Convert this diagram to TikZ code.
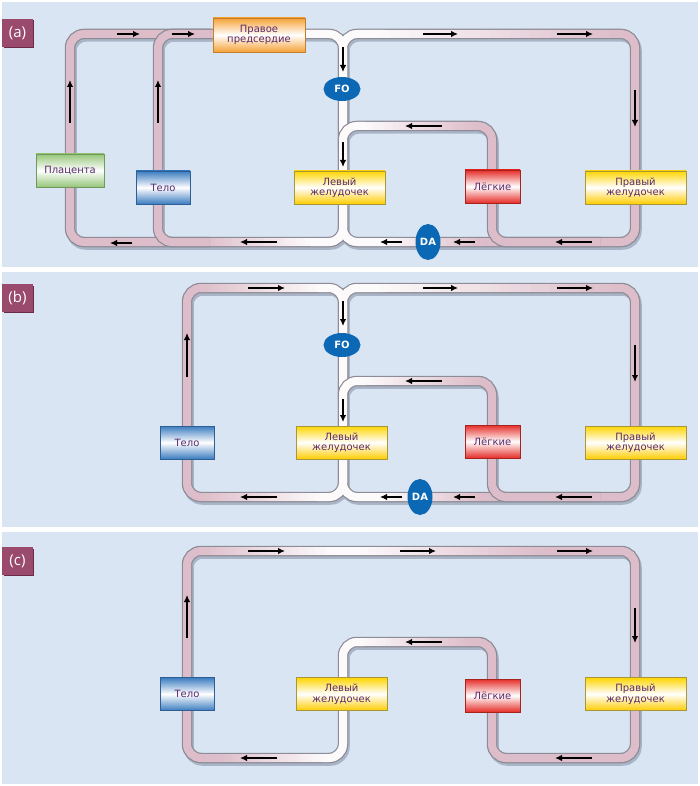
\documentclass[tikz,border=0pt]{standalone}
\usepackage{fontspec}
\setmainfont{DejaVu Sans}
\newfontfamily\lblfont{Open Sans}
\usetikzlibrary{arrows.meta,shapes.geometric}
\definecolor{bg}{HTML}{DAE5F3}
\definecolor{tpink}{HTML}{DDBDC9}
\definecolor{twhite}{HTML}{FCFAFB}
\definecolor{tborder}{HTML}{8C8C96}
\definecolor{tshadow}{HTML}{A9B5C7}
\definecolor{txt}{HTML}{5A2A6E}
\definecolor{lblc}{HTML}{9A4A6C}
\definecolor{lbls}{HTML}{6A2A48}
\definecolor{ovalc}{HTML}{0A68B4}
\definecolor{cgreen}{HTML}{96C67A}\definecolor{bgreen}{HTML}{6F9A5B}
\definecolor{cblue}{HTML}{3B7CC0}\definecolor{bblue}{HTML}{2D5F95}
\definecolor{cyel}{HTML}{FFD500}\definecolor{byel}{HTML}{A8973A}
\definecolor{corg}{HTML}{F5A236}\definecolor{borg}{HTML}{C47E2A}
\definecolor{cred}{HTML}{E52D28}\definecolor{bred}{HTML}{A8221E}
\tikzset{
  ts/.style={line width=10.5pt,tshadow,rounded corners=14pt,shift={(1.5,2.5)}},
  tb/.style={line width=10.5pt,tborder,rounded corners=14pt},
  tf/.style={line width=8pt,tpink,rounded corners=14pt},
  tw/.style={line width=8pt,twhite,rounded corners=14pt},
  flow/.style={line width=1.6pt,black,-{Latex[length=7pt,width=6.5pt]}},
  bx/.style={draw,line width=0.8pt,minimum height=33pt,inner sep=1pt,align=center,
    font=\fontsize{10}{10.5}\selectfont,text=txt},
  gbox/.style={bx,top color=cgreen,bottom color=cgreen,middle color=white,draw=bgreen},
  bbox/.style={bx,top color=cblue,bottom color=cblue,middle color=white,draw=bblue},
  ybox/.style={bx,top color=cyel,bottom color=cyel!90!orange,middle color=white,draw=byel},
  obox/.style={bx,top color=corg,bottom color=corg,middle color=white,draw=borg},
  rbox/.style={bx,top color=cred,bottom color=cred,middle color=white,draw=bred},
  oval/.style={ellipse,fill=ovalc,text=white,inner sep=0pt,font=\bfseries\fontsize{10}{10}\selectfont},
  lbl/.style={fill=lblc,text=white,minimum width=31pt,minimum height=28pt,inner sep=0pt,
    font=\lblfont\fontsize{15}{16}\selectfont},
}
\newcommand\hgr[5]{%
 \foreach \k in {0,...,23}{%
  \pgfmathsetmacro\xa{#1+(#2-#1)*\k/24}%
  \pgfmathsetmacro\xb{#1+(#2-#1)*(\k+1.25)/24}%
  \pgfmathtruncatemacro\pc{100-100*(\k+0.5)/24}%
  \draw[line width=8pt,color=#4!\pc!#5] (\xa,#3) -- (\xb,#3);
 }}
\begin{document}
\begin{tikzpicture}[x=1pt,y=-1pt]
\useasboundingbox (0,0) rectangle (700,786);
\fill[white] (0,0) rectangle (700,786);
\fill[bg] (2,2) rectangle (698,267);
\fill[bg] (2,272) rectangle (698,527);
\fill[bg] (2,532) rectangle (698,784);

% ================= panel (a) =================
\draw[ts] (343,190) -- (343,242) -- (70,242) -- (70,34) -- (343,34) -- (343,190);
\draw[ts] (343,150) -- (343,34) -- (635,34) -- (635,242) -- (343,242) -- (343,190);
\draw[ts] (343,180) -- (343,126) -- (492,126) -- (492,242) -- (600,242);
\draw[ts] (210,242) -- (158,242) -- (158,34) -- (210,34);
\draw[tb] (343,190) -- (343,242) -- (70,242) -- (70,34) -- (343,34) -- (343,190);
\draw[tb] (343,150) -- (343,34) -- (635,34) -- (635,242) -- (343,242) -- (343,190);
\draw[tf] (343,190) -- (343,242) -- (70,242) -- (70,34) -- (343,34) -- (343,190);
\draw[tf] (343,150) -- (343,34) -- (635,34) -- (635,242) -- (343,242) -- (343,190);
\draw[tw] (300,34) -- (343,34) -- (343,242) -- (310,242);
\draw[tw] (343,100) -- (343,34) -- (385,34);
\draw[tw] (343,190) -- (343,242) -- (385,242);
\hgr{380}{620}{34}{twhite}{tpink}
\hgr{385}{482}{242}{twhite}{tpink}
\hgr{310}{200}{242}{twhite}{tpink}
% lungs loop on top
\draw[tb] (343,180) -- (343,126) -- (492,126) -- (492,242) -- (600,242);
\draw[tf] (343,180) -- (343,126) -- (492,126) -- (492,242) -- (600,242);
\draw[tw] (343,185) -- (343,126) -- (365,126);
\hgr{365}{478}{126}{twhite}{tpink}
% body loop on top
\draw[tb] (210,242) -- (158,242) -- (158,34) -- (210,34);
\draw[tf] (210,242) -- (158,242) -- (158,34) -- (210,34);

\draw[flow] (117,34) -- (140,34);
\draw[flow] (172,34) -- (195,34);
\draw[flow] (70,123) -- (70,80);
\draw[flow] (158,123) -- (158,80);
\draw[flow] (132,243) -- (110,243);
\draw[flow] (277,242) -- (240,242);
\draw[flow] (343,47) -- (343,72);
\draw[flow] (423,34) -- (458,34);
\draw[flow] (557,34) -- (593,34);
\draw[flow] (635,90) -- (635,127);
\draw[flow] (592,242) -- (555,242);
\draw[flow] (475,242) -- (453,242);
\draw[flow] (402,242) -- (380,242);
\draw[flow] (442,126) -- (405,126);
\draw[flow] (343,142) -- (343,167);

\node[obox,minimum width=92pt,minimum height=34pt] (ra) at (259,35) {Правое\\предсердие};
\node[gbox,minimum width=68pt] (pla) at (70,170.5) {Плацента};
\node[bbox,minimum width=54pt] (tela) at (163,187.5) {Тело};
\node[ybox,minimum width=91pt] (lva) at (339.5,187.5) {Левый\\желудочек};
\node[rbox,minimum width=55pt] (lga) at (492.5,186.5) {Лёгкие};
\node[ybox,minimum width=101pt] (rva) at (635.5,187.5) {Правый\\желудочек};
\node[oval,minimum width=37pt,minimum height=24pt] (foa) at (342,89) {FO};
\node[oval,minimum width=25pt,minimum height=36pt] (daa) at (428,242) {DA};

\fill[lbls] (3.5,20.5) rectangle (34,48);
\node[lbl] (lba) at (17.5,33) {(a)};

% ================= panel (b) =================
\draw[ts] (343,445) -- (343,497) -- (187,497) -- (187,288) -- (343,288) -- (343,445);
\draw[ts] (343,400) -- (343,288) -- (635,288) -- (635,497) -- (343,497) -- (343,445);
\draw[ts] (343,435) -- (343,381) -- (492,381) -- (492,497) -- (600,497);
\draw[tb] (343,445) -- (343,497) -- (187,497) -- (187,288) -- (343,288) -- (343,445);
\draw[tb] (343,400) -- (343,288) -- (635,288) -- (635,497) -- (343,497) -- (343,445);
\draw[tf] (343,445) -- (343,497) -- (187,497) -- (187,288) -- (343,288) -- (343,445);
\draw[tf] (343,400) -- (343,288) -- (635,288) -- (635,497) -- (343,497) -- (343,445);
\draw[tw] (318,288) -- (343,288) -- (343,497) -- (318,497);
\draw[tw] (343,350) -- (343,288) -- (385,288);
\draw[tw] (343,445) -- (343,497) -- (385,497);
\hgr{200}{320}{288}{tpink}{twhite}
\hgr{320}{200}{497}{twhite}{tpink}
\hgr{380}{620}{288}{twhite}{tpink}
\hgr{385}{482}{497}{twhite}{tpink}
\draw[tb] (343,435) -- (343,381) -- (492,381) -- (492,497) -- (600,497);
\draw[tf] (343,435) -- (343,381) -- (492,381) -- (492,497) -- (600,497);
\draw[tw] (343,440) -- (343,381) -- (365,381);
\hgr{365}{478}{381}{twhite}{tpink}

\draw[flow] (248,288) -- (285,288);
\draw[flow] (187,377) -- (187,333);
\draw[flow] (277,497) -- (240,497);
\draw[flow] (343,301) -- (343,326);
\draw[flow] (423,288) -- (458,288);
\draw[flow] (557,288) -- (593,288);
\draw[flow] (635,345) -- (635,382);
\draw[flow] (592,497) -- (555,497);
\draw[flow] (475,497) -- (453,497);
\draw[flow] (402,497) -- (380,497);
\draw[flow] (442,381) -- (405,381);
\draw[flow] (343,399) -- (343,422);

\node[bbox,minimum width=54pt] (telb) at (187,442.5) {Тело};
\node[ybox,minimum width=91pt] (lvb) at (341.5,442.5) {Левый\\желудочек};
\node[rbox,minimum width=55pt] (lgb) at (492.5,441.5) {Лёгкие};
\node[ybox,minimum width=101pt] (rvb) at (635.5,442.5) {Правый\\желудочек};
\node[oval,minimum width=37pt,minimum height=24pt] (fob) at (342,345) {FO};
\node[oval,minimum width=25pt,minimum height=36pt] (dab) at (420,497) {DA};

\fill[lbls] (3.5,285.5) rectangle (34,313);
\node[lbl] (lbb) at (17.5,298) {(b)};

% ================= panel (c) =================
\draw[ts] (400,551) -- (635,551) -- (635,758) -- (492,758) -- (492,642) -- (343,642) -- (343,758) -- (187,758) -- (187,551) -- (400,551);
\draw[tb] (400,551) -- (635,551) -- (635,758) -- (492,758) -- (492,642) -- (343,642) -- (343,758) -- (187,758) -- (187,551) -- (400,551);
\draw[tf] (400,551) -- (635,551) -- (635,758) -- (492,758) -- (492,642) -- (343,642) -- (343,758) -- (187,758) -- (187,551) -- (400,551);
\draw[tw] (365,642) -- (343,642) -- (343,758) -- (322,758);
\draw[tw] (328,551) -- (362,551);
\hgr{200}{330}{551}{tpink}{twhite}
\hgr{360}{540}{551}{twhite}{tpink}
\hgr{363}{470}{642}{twhite}{tpink}
\hgr{324}{220}{758}{twhite}{tpink}

\draw[flow] (248,551) -- (285,551);
\draw[flow] (400,551) -- (436,551);
\draw[flow] (557,551) -- (593,551);
\draw[flow] (187,638) -- (187,595);
\draw[flow] (277,758) -- (240,758);
\draw[flow] (635,608) -- (635,643);
\draw[flow] (592,758) -- (555,758);
\draw[flow] (442,642) -- (405,642);

\node[bbox,minimum width=54pt] (telc) at (187,694) {Тело};
\node[ybox,minimum width=91pt] (lvc) at (341.5,694) {Левый\\желудочек};
\node[rbox,minimum width=55pt] (lgc) at (492.5,695.5) {Лёгкие};
\node[ybox,minimum width=101pt] (rvc) at (635.5,694) {Правый\\желудочек};

\fill[lbls] (3.5,548.5) rectangle (34,576);
\node[lbl] (lbc) at (17.5,561) {(c)};
\end{tikzpicture}
\end{document}
